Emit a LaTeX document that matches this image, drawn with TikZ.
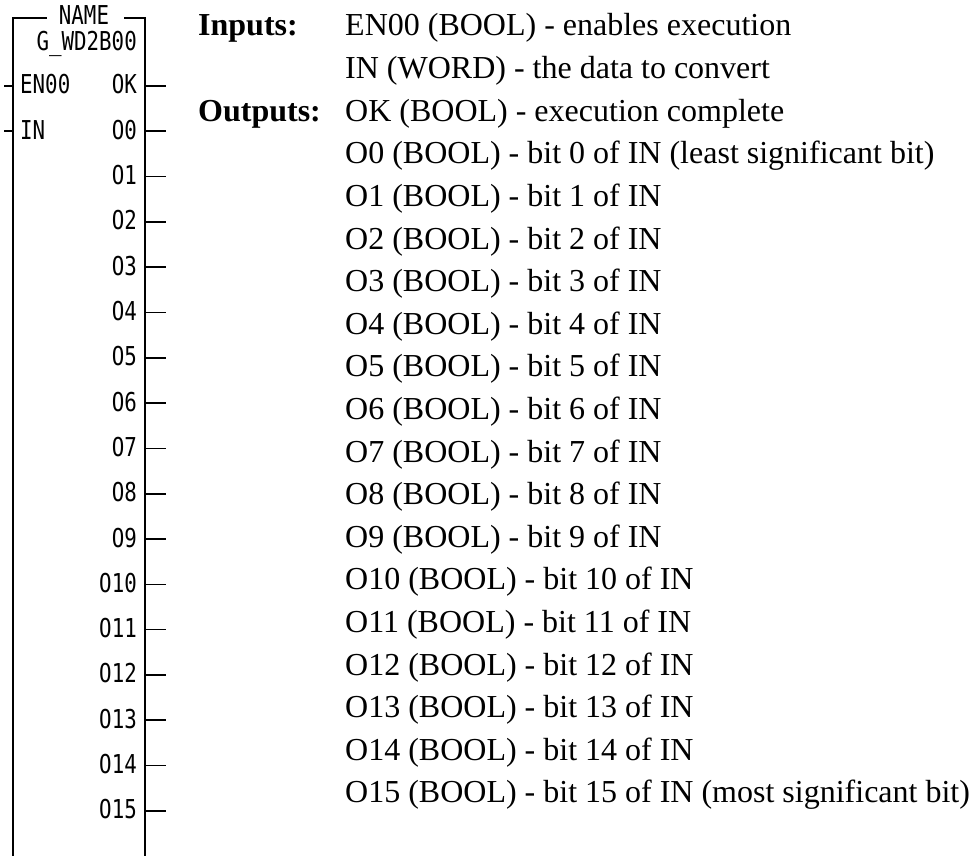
\documentclass[tikz,border=0pt]{standalone}
\usepackage{fontspec}
\setmainfont{Liberation Serif}
\newfontfamily\plcfont[FakeStretch=0.8]{DejaVu Sans Mono}
\begin{document}
\begin{tikzpicture}[x=1pt,y=-1pt,
  plc/.style={font=\plcfont\fontsize{26}{30}\selectfont, inner sep=0pt},
  desc/.style={font=\fontsize{32}{38}\selectfont, inner sep=0pt, anchor=base west},
  hdr/.style={font=\bfseries\fontsize{32}{38}\selectfont, inner sep=0pt, anchor=base west},
  boxline/.style={line width=2pt},
  pinline/.style={line width=1.6pt}]
\useasboundingbox (0,0) rectangle (972,856);
% function block outline (open at bottom)
\coordinate (tl) at (13,18.5);
\coordinate (tr) at (145,18.5);
\coordinate (bl) at (13,862);
\coordinate (br) at (145,862);
\coordinate (gapL) at (47,18.5);
\coordinate (gapR) at (124,18.5);
\draw[boxline] (bl) -- (tl) -- (gapL);
\draw[boxline] (gapR) -- (tr) -- (br);
\node[plc, anchor=base] (name) at (84,25) {NAME};
\node[plc, anchor=base east] (type) at (137,50.5) {G\_WD2B00};
% inputs
\node[plc, anchor=base west] (en) at (20,94) {EN00};
\coordinate (enA) at (4,86); \coordinate (enB) at (13,86);
\draw[pinline] (enA) -- (enB);
\node[plc, anchor=base west] (in) at (20,139.3) {IN};
\coordinate (inA) at (4,131.3); \coordinate (inB) at (13,131.3);
\draw[pinline] (inA) -- (inB);
% outputs
\foreach \lab [count=\i from 0] in {OK,O0,O1,O2,O3,O4,O5,O6,O7,O8,O9,O10,O11,O12,O13,O14,O15}{
  \pgfmathsetmacro{\yy}{86+\i*45.3}
  \node[plc, anchor=base east] (out\i) at (137,\yy+8) {\lab};
  \coordinate (outA\i) at (145,\yy);
  \coordinate (outB\i) at (166,\yy);
  \draw[pinline] (outA\i) -- (outB\i);
}
% description
\node[hdr] (hin) at (198,36) {Inputs:};
\node[hdr] (hout) at (198,121.2) {Outputs:};
\foreach \txt [count=\k from 0] in {
  {EN00 (BOOL) - enables execution},
  {IN (WORD) - the data to convert},
  {OK (BOOL) - execution complete},
  {O0 (BOOL) - bit 0 of IN (least significant bit)},
  {O1 (BOOL) - bit 1 of IN},
  {O2 (BOOL) - bit 2 of IN},
  {O3 (BOOL) - bit 3 of IN},
  {O4 (BOOL) - bit 4 of IN},
  {O5 (BOOL) - bit 5 of IN},
  {O6 (BOOL) - bit 6 of IN},
  {O7 (BOOL) - bit 7 of IN},
  {O8 (BOOL) - bit 8 of IN},
  {O9 (BOOL) - bit 9 of IN},
  {O10 (BOOL) - bit 10 of IN},
  {O11 (BOOL) - bit 11 of IN},
  {O12 (BOOL) - bit 12 of IN},
  {O13 (BOOL) - bit 13 of IN},
  {O14 (BOOL) - bit 14 of IN},
  {O15 (BOOL) - bit 15 of IN (most significant bit)}}{
  \pgfmathsetmacro{\yb}{36+\k*42.6}
  \node[desc] (d\k) at (345,\yb) {\txt};
}
\end{tikzpicture}
\end{document}
